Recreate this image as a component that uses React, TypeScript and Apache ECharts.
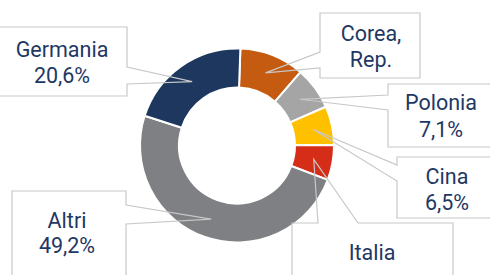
import React, { useEffect, useRef } from "react";
import * as echarts from "echarts";

// ---- data ----
const categories = ["Corea, Rep.", "Polonia", "Cina", "Italia", "Altri", "Germania"];
const shares = [10.8, 7.1, 6.5, 5.8, 49.2, 20.6];
const colors = ["#C55A11", "#A5A5A5", "#FFC000", "#D62D18", "#7F8083", "#1D375E"];
// visible label lines of each callout (as cropped in the original)
const labelLines = [
  ["Corea,", "Rep."],
  ["Polonia", "7,1%"],
  ["Cina", "6,5%"],
  ["Italia"],
  ["Altri", "49,2%"],
  ["Germania", "20,6%"],
];

// ---- layout ----
const CX = 237;
const CY = 145.5;
const R_IN = 58;
const R_OUT = 97;
const TIP_R = 78;
const START_OFFSET = 2; // degrees clockwise from 12 o'clock
const TEXT_COLOR = "#1F3864";
const BOX_COLOR = "#C8C8C8";
const FONT = "Roboto";
const FONT_SIZE = 21.5;

type Box = {
  l: number; t: number; r: number; b: number;
  side: "left" | "right" | "top";
  w1: number; w2: number; // wedge base along the side
  tx: number; ty: number[]; // text centre x, line centre ys
};

const boxes: Box[] = [
  { l: 320, t: 13, r: 420, b: 78, side: "left", w1: 52, w2: 68, tx: 371, ty: [33, 59] },
  { l: 388, t: 84, r: 500, b: 147, side: "left", w1: 95, w2: 110, tx: 441, ty: [102, 129] },
  { l: 397, t: 157, r: 500, b: 218, side: "left", w1: 165, w2: 181, tx: 447, ty: [176, 202.5] },
  { l: 292, t: 223, r: 453, b: 290, side: "top", w1: 318, w2: 358, tx: 372, ty: [252.5] },
  { l: 12, t: 191, r: 126, b: 290, side: "right", w1: 205, w2: 224, tx: 67, ty: [220, 245] },
  { l: -5, t: 27, r: 127, b: 96, side: "right", w1: 67, w2: 84, tx: 62, ty: [49, 75.5] },
];

function tipPoints(): number[][] {
  const total = shares.reduce((a, b) => a + b, 0);
  let cum = 0;
  return shares.map((v) => {
    const mid = START_OFFSET + ((cum + v / 2) / total) * 360;
    cum += v;
    const a = (mid * Math.PI) / 180;
    return [CX + TIP_R * Math.sin(a), CY - TIP_R * Math.cos(a)];
  });
}

function calloutPolygon(b: Box, tip: number[]): number[][] {
  if (b.side === "left") {
    return [[b.l, b.t], [b.r, b.t], [b.r, b.b], [b.l, b.b], [b.l, b.w2], tip, [b.l, b.w1]];
  }
  if (b.side === "right") {
    return [[b.l, b.t], [b.r, b.t], [b.r, b.w1], tip, [b.r, b.w2], [b.r, b.b], [b.l, b.b]];
  }
  return [[b.l, b.b], [b.l, b.t], [b.w1, b.t], tip, [b.w2, b.t], [b.r, b.t], [b.r, b.b]];
}

export default function App() {
  const ref = useRef<HTMLDivElement>(null);
  useEffect(() => {
    if (!ref.current) return;
    const chart = echarts.init(ref.current, undefined, { renderer: "svg" });
    const tips = tipPoints();
    const graphics: any[] = [];
    boxes.forEach((b, i) => {
      graphics.push({
        type: "polygon",
        z: 10,
        silent: true,
        shape: { points: calloutPolygon(b, tips[i]) },
        style: { fill: "none", stroke: BOX_COLOR, lineWidth: 1.2 },
      });
      labelLines[i].forEach((line, j) => {
        graphics.push({
          type: "text",
          z: 11,
          silent: true,
          x: b.tx,
          y: b.ty[j],
          style: {
            text: line,
            fill: TEXT_COLOR,
            fontSize: FONT_SIZE,
            fontFamily: FONT,
            align: "center",
            verticalAlign: "middle",
            textAlign: "center",
            textVerticalAlign: "middle",
          },
        });
      });
    });
    chart.setOption({
      animation: false,
      backgroundColor: "#ffffff",
      color: colors,
      series: [
        {
          type: "pie",
          center: [CX, CY],
          radius: [R_IN, R_OUT],
          startAngle: 90 - START_OFFSET,
          clockwise: true,
          label: { show: false },
          labelLine: { show: false },
          itemStyle: { borderColor: "#ffffff", borderWidth: 2 },
          emphasis: { disabled: true },
          data: categories.map((name, i) => ({ name, value: shares[i] })),
        },
      ],
      graphic: graphics,
    });
    return () => chart.dispose();
  }, []);
  return (
    <div
      ref={ref}
      style={{ position: "fixed", left: 0, top: 0, width: 490, height: 275 }}
    />
  );
}
